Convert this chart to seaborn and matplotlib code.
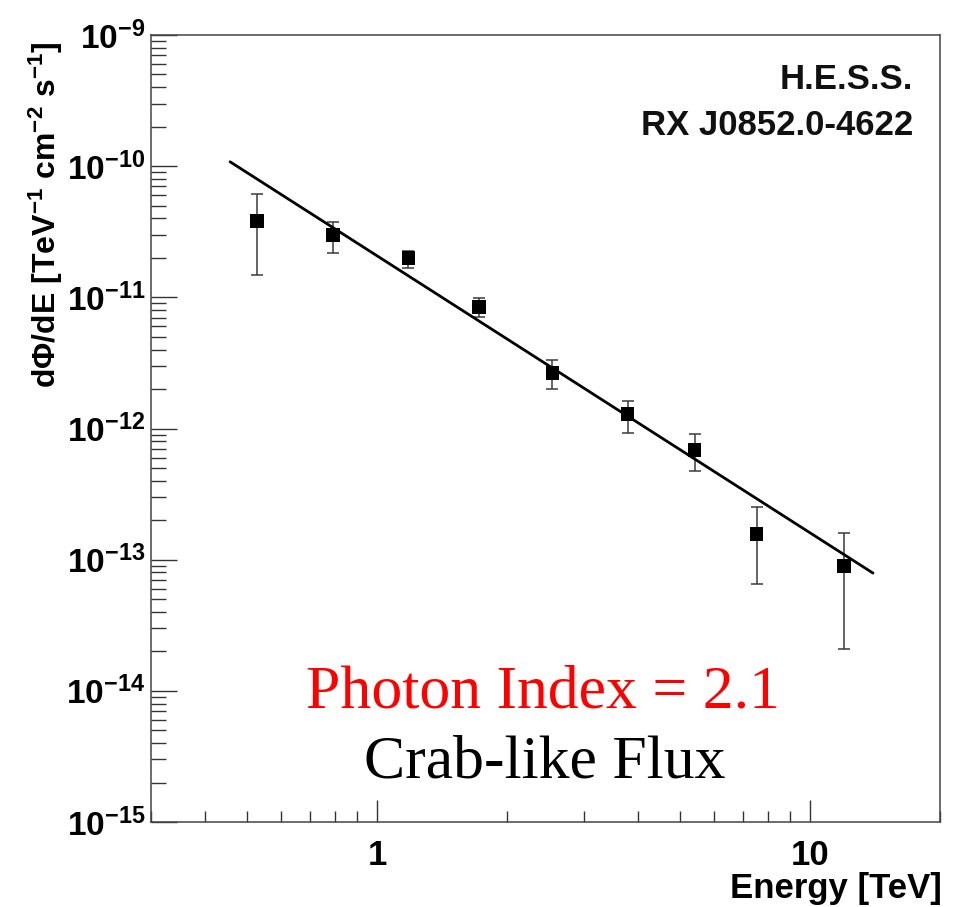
import matplotlib
matplotlib.use("Agg")
import matplotlib.pyplot as plt
import matplotlib.ticker as mticker
import numpy as np
import pandas as pd
import seaborn as sns

# ---- data ----
energy = [0.527, 0.791, 1.18, 1.72, 2.54, 3.79, 5.42, 7.54, 12.0]          # TeV
flux = [3.82e-11, 2.99e-11, 2.00e-11, 8.44e-12, 2.65e-12, 1.29e-12, 6.86e-13, 1.57e-13, 8.95e-14]
flux_low = [1.48e-11, 2.18e-11, 1.67e-11, 7.1e-12, 2.0e-12, 9.24e-13, 4.74e-13, 6.53e-14, 2.08e-14]
flux_high = [6.13e-11, 3.75e-11, 2.26e-11, 9.9e-12, 3.33e-12, 1.62e-12, 9.08e-13, 2.52e-13, 1.60e-13]
fit_energy = [0.457, 14.0]
fit_flux = [1.08e-10, 7.9e-14]
y_decades = [-15, -14, -13, -12, -11, -10, -9]
x_major = [1, 10]

sns.set_theme(style="white")
plt.rcParams["font.family"] = ["Liberation Sans", "DejaVu Sans"]
plt.rcParams["mathtext.fontset"] = "custom"
plt.rcParams["mathtext.rm"] = "Liberation Sans:bold"
plt.rcParams["mathtext.it"] = "Liberation Sans:bold"
plt.rcParams["mathtext.bf"] = "Liberation Sans:bold"
for k in ["text.color", "axes.labelcolor", "xtick.color", "ytick.color"]:
    plt.rcParams[k] = "black"

W, H = 959, 907
fig = plt.figure(figsize=(W / 100, H / 100), dpi=100)
ax = fig.add_axes([151 / W, 1 - 822 / H, (940 - 151) / W, (822 - 35) / H])

df = pd.DataFrame({"E": energy, "F": flux})
fit_df = pd.DataFrame({"E": fit_energy, "F": fit_flux})

ax.set_xscale("log")
ax.set_yscale("log")

yerr = np.array([np.array(flux) - np.array(flux_low), np.array(flux_high) - np.array(flux)])
ax.errorbar(energy, flux, yerr=yerr, fmt="none", ecolor="#3a3a3a", elinewidth=1.1,
            capsize=4.5, capthick=1.1, zorder=2)
sns.lineplot(data=fit_df, x="E", y="F", ax=ax, color="black", linewidth=2.0, zorder=3)
sns.scatterplot(data=df, x="E", y="F", ax=ax, marker="s", s=95, color="black",
                edgecolor="none", zorder=4)

ax.set_xlim(0.3, 20)
ax.set_ylim(1e-15, 1e-9)

ax.yaxis.set_major_locator(mticker.FixedLocator([10.0 ** d for d in y_decades]))
ax.yaxis.set_minor_locator(mticker.LogLocator(base=10, subs=np.arange(2, 10), numticks=20))
ax.yaxis.set_major_formatter(mticker.FuncFormatter(lambda v, p: r"$\mathbf{10^{%d}}$" % round(np.log10(v))))
ax.yaxis.set_minor_formatter(mticker.NullFormatter())

ax.xaxis.set_major_locator(mticker.FixedLocator(x_major))
ax.xaxis.set_minor_locator(mticker.LogLocator(base=10, subs=np.arange(2, 10), numticks=20))
ax.xaxis.set_major_formatter(mticker.FuncFormatter(lambda v, p: "%d" % v))
ax.xaxis.set_minor_formatter(mticker.NullFormatter())

ax.tick_params(axis="y", which="major", direction="in", length=18.5, width=1.0, color="#333333",
               labelcolor="black", left=True, right=False, pad=4, labelsize=24)
ax.tick_params(axis="y", which="minor", direction="in", length=10.8, width=1.0, color="#333333",
               left=True, right=False)
ax.tick_params(axis="x", which="major", direction="in", length=16, width=1.0, color="#333333",
               labelcolor="black", bottom=True, top=False, pad=12, labelsize=25)
ax.tick_params(axis="x", which="minor", direction="in", length=8, width=1.0, color="#333333",
               bottom=True, top=False)
for lab in ax.get_xticklabels() + ax.get_yticklabels():
    lab.set_fontweight("bold")

for sp in ax.spines.values():
    sp.set_color("#444444")
    sp.set_linewidth(1.1)

ax.set_xlabel("")
ax.set_ylabel("")
fig.text(942 / W, 1 - 898 / H, "Energy [TeV]", ha="right", va="baseline",
         fontsize=25, fontweight="bold", color="black")
fig.text(46 / W, 1 - 215 / H, r"dΦ/dE [TeV$^{-1}$ cm$^{-2}$ s$^{-1}$]", rotation=90,
         ha="center", va="center", fontsize=23, fontweight="bold", color="black")

fig.text(913 / W, 1 - 89 / H, "H.E.S.S.", ha="right", va="baseline", fontsize=25, fontweight="bold",
         color="#111111")
fig.text(913 / W, 1 - 135 / H, "RX J0852.0-4622", ha="right", va="baseline", fontsize=25,
         fontweight="bold", color="#111111")
fig.text(543 / W, 1 - 707 / H, "Photon Index = 2.1", ha="center", va="baseline", fontsize=44.5,
         color="#ff0000", family="Liberation Serif")
fig.text(545 / W, 1 - 777 / H, "Crab-like Flux", ha="center", va="baseline", fontsize=44.5,
         color="black", family="Liberation Serif")

fig.savefig("out.png", dpi=100)
